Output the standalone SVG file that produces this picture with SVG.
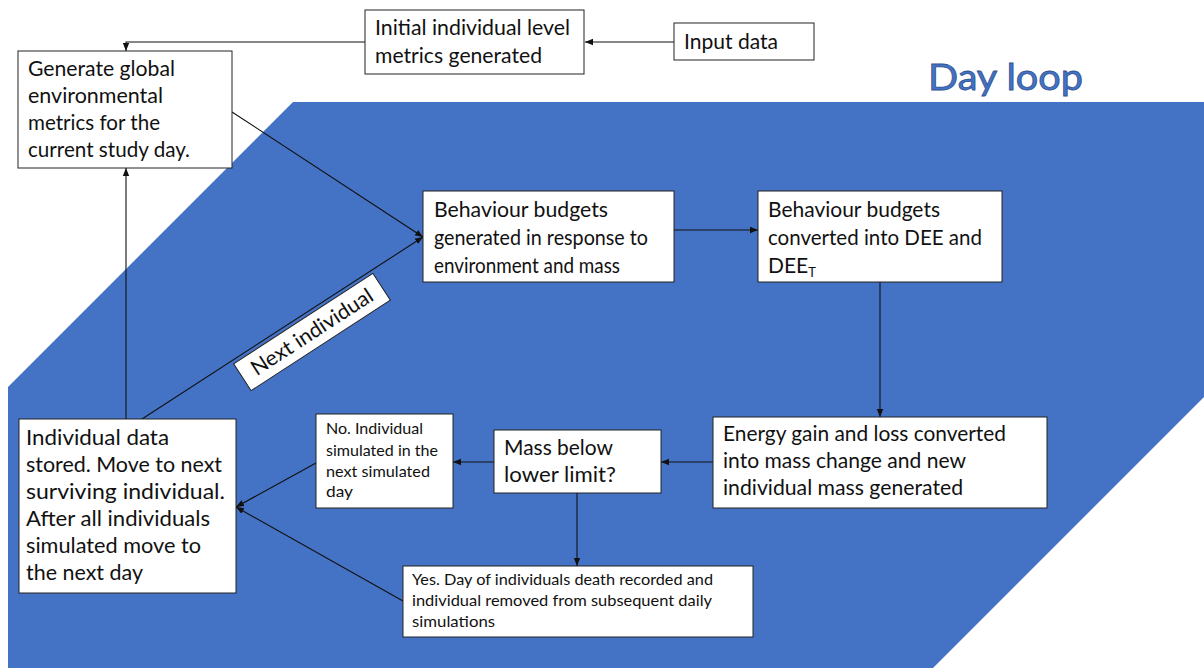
<svg xmlns="http://www.w3.org/2000/svg" width="1204" height="668" viewBox="0 0 1204 668">
<defs>
<marker id="ah" markerUnits="userSpaceOnUse" markerWidth="8" markerHeight="8" viewBox="0 0 8 8" refX="8" refY="4" orient="auto">
<path d="M0,0.8 L8,4 L0,7.2 Z" fill="#111"/>
</marker>
<style>
.box{fill:#ffffff;stroke:#222;stroke-width:1}
.t{font-family:Lato,"Liberation Sans",sans-serif;font-size:21px;fill:#111}
.s{font-family:Lato,"Liberation Sans",sans-serif;font-size:16px;fill:#111}
.c{fill:none;stroke:#111;stroke-width:1.1}
</style>
</defs>
<rect x="0" y="0" width="1204" height="668" fill="#ffffff"/>
<polygon id="dayloop-area" points="293,102 1204,102 1204,397 933,668 8,668 8,387" fill="#4472C4"/>
<text id="dayloop-title" x="928" y="90" textLength="155" lengthAdjust="spacingAndGlyphs" style="font-family:Lato,'Liberation Sans',sans-serif;font-size:37px;fill:#4472C4;stroke:#2F528F;stroke-width:0.8">Day loop</text>

<g id="connectors">
<path class="c" d="M674,42 L585,42" marker-end="url(#ah)"/>
<path class="c" d="M365,42 L126,42 L126,51" marker-end="url(#ah)"/>
<path class="c" d="M232,112 L423,237" marker-end="url(#ah)"/>
<path class="c" d="M142,419 L423,237" marker-end="url(#ah)"/>
<path class="c" d="M126,419 L126,168" marker-end="url(#ah)"/>
<path class="c" d="M674,230 L758,230" marker-end="url(#ah)"/>
<path class="c" d="M880,282 L880,417" marker-end="url(#ah)"/>
<path class="c" d="M713,462 L661,462" marker-end="url(#ah)"/>
<path class="c" d="M494,462 L453,462" marker-end="url(#ah)"/>
<path class="c" d="M577,493 L577,566" marker-end="url(#ah)"/>
<path class="c" d="M316,463 L236,507" marker-end="url(#ah)"/>
<path class="c" d="M403,601 L236,507" marker-end="url(#ah)"/>
</g>

<g id="label-next-individual" transform="translate(312,332) rotate(-33)">
<rect class="box" x="-83" y="-16" width="166" height="32"/>
<text class="t" x="0" y="7" text-anchor="middle" textLength="141" lengthAdjust="spacingAndGlyphs">Next individual</text>
</g>

<g id="node-input">
<rect class="box" x="674" y="23" width="140" height="37"/>
<text class="t" x="684" y="49" textLength="94" lengthAdjust="spacingAndGlyphs">Input data</text>
</g>

<g id="node-initial">
<rect class="box" x="365" y="10" width="219" height="64"/>
<text class="t" x="375" y="35" textLength="195" lengthAdjust="spacingAndGlyphs">Initial individual level</text>
<text class="t" x="375" y="63" textLength="167" lengthAdjust="spacingAndGlyphs">metrics generated</text>
</g>

<g id="node-generate">
<rect class="box" x="18" y="51" width="214" height="117"/>
<text class="t" x="28" y="76" textLength="147" lengthAdjust="spacingAndGlyphs">Generate global</text>
<text class="t" x="28" y="103" textLength="135" lengthAdjust="spacingAndGlyphs">environmental</text>
<text class="t" x="28" y="130" textLength="132" lengthAdjust="spacingAndGlyphs">metrics for the</text>
<text class="t" x="28" y="157" textLength="162" lengthAdjust="spacingAndGlyphs">current study day.</text>
</g>

<g id="node-behaviour-generated">
<rect class="box" x="423" y="191" width="251" height="91"/>
<text class="t" x="434" y="217" textLength="174" lengthAdjust="spacingAndGlyphs">Behaviour budgets</text>
<text class="t" x="434" y="245" textLength="214" lengthAdjust="spacingAndGlyphs">generated in response to</text>
<text class="t" x="434" y="273" textLength="186" lengthAdjust="spacingAndGlyphs">environment and mass</text>
</g>

<g id="node-behaviour-converted">
<rect class="box" x="758" y="191" width="244" height="91"/>
<text class="t" x="768" y="217" textLength="172" lengthAdjust="spacingAndGlyphs">Behaviour budgets</text>
<text class="t" x="768" y="245" textLength="214" lengthAdjust="spacingAndGlyphs">converted into DEE and</text>
<text class="t" x="768" y="273">DEE<tspan font-size="13" dy="4">T</tspan></text>
</g>

<g id="node-energy">
<rect class="box" x="713" y="417" width="334" height="91"/>
<text class="t" x="723" y="441" textLength="283" lengthAdjust="spacingAndGlyphs">Energy gain and loss converted</text>
<text class="t" x="723" y="468" textLength="243" lengthAdjust="spacingAndGlyphs">into mass change and new</text>
<text class="t" x="723" y="495" textLength="240" lengthAdjust="spacingAndGlyphs">individual mass generated</text>
</g>

<g id="node-mass">
<rect class="box" x="494" y="430" width="167" height="63"/>
<text class="t" x="504" y="455" textLength="109" lengthAdjust="spacingAndGlyphs">Mass below</text>
<text class="t" x="504" y="482" textLength="112" lengthAdjust="spacingAndGlyphs">lower limit?</text>
</g>

<g id="node-no">
<rect class="box" x="316" y="414" width="137" height="94"/>
<text class="s" x="326" y="434" textLength="97" lengthAdjust="spacingAndGlyphs">No. Individual</text>
<text class="s" x="326" y="456" textLength="112" lengthAdjust="spacingAndGlyphs">simulated in the</text>
<text class="s" x="326" y="477" textLength="104" lengthAdjust="spacingAndGlyphs">next simulated</text>
<text class="s" x="326" y="497" textLength="27" lengthAdjust="spacingAndGlyphs">day</text>
</g>

<g id="node-individual">
<rect class="box" x="19" y="419" width="217" height="174"/>
<text class="t" x="26" y="445" textLength="143" lengthAdjust="spacingAndGlyphs">Individual data</text>
<text class="t" x="26" y="472" textLength="196" lengthAdjust="spacingAndGlyphs">stored. Move to next</text>
<text class="t" x="26" y="499" textLength="199" lengthAdjust="spacingAndGlyphs">surviving individual.</text>
<text class="t" x="26" y="526" textLength="184" lengthAdjust="spacingAndGlyphs">After all individuals</text>
<text class="t" x="26" y="553" textLength="175" lengthAdjust="spacingAndGlyphs">simulated move to</text>
<text class="t" x="26" y="580" textLength="117" lengthAdjust="spacingAndGlyphs">the next day</text>
</g>

<g id="node-yes">
<rect class="box" x="403" y="566" width="350" height="71"/>
<text class="s" x="412" y="585" textLength="301" lengthAdjust="spacingAndGlyphs">Yes. Day of individuals death recorded and</text>
<text class="s" x="412" y="606" textLength="300" lengthAdjust="spacingAndGlyphs">individual removed from subsequent daily</text>
<text class="s" x="412" y="627" textLength="83" lengthAdjust="spacingAndGlyphs">simulations</text>
</g>
</svg>
